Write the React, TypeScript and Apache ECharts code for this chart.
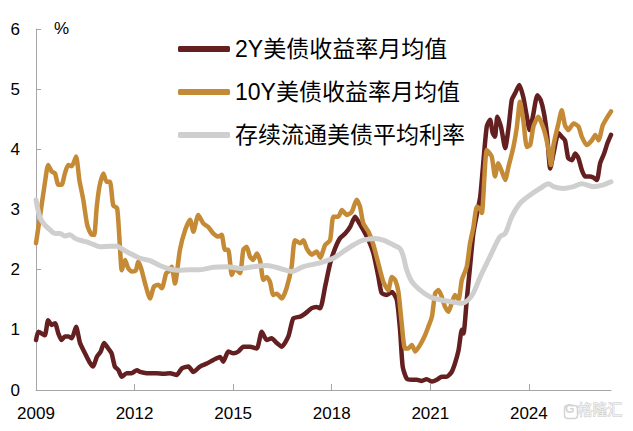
import React, { useEffect, useRef } from "react";
import * as echarts from "echarts";

// ---- data (decimal years, percent) ----
const xTicks = [2009, 2012, 2015, 2018, 2021, 2024];
const yTicks = [0, 1, 2, 3, 4, 5, 6];

const legendNames = ["2Y美债收益率月均值", "10Y美债收益率月均值", "存续流通美债平均利率"];

const t2y = [2009.0, 2009.07, 2009.17, 2009.27, 2009.37, 2009.48, 2009.58, 2009.68, 2009.78, 2009.88, 2009.98, 2010.09, 2010.22, 2010.34, 2010.49, 2010.62, 2010.74, 2010.85, 2010.97, 2011.07, 2011.2, 2011.3, 2011.4, 2011.51, 2011.61, 2011.76, 2011.91, 2012.07, 2012.17, 2012.37, 2012.67, 2012.88, 2013.08, 2013.28, 2013.44, 2013.64, 2013.79, 2013.99, 2014.2, 2014.4, 2014.6, 2014.7, 2014.85, 2015.01, 2015.16, 2015.31, 2015.51, 2015.72, 2015.87, 2016.02, 2016.17, 2016.33, 2016.48, 2016.68, 2016.83, 2017.04, 2017.19, 2017.39, 2017.54, 2017.65, 2017.8, 2017.95, 2018.1, 2018.25, 2018.41, 2018.56, 2018.71, 2018.81, 2018.96, 2019.12, 2019.27, 2019.42, 2019.52, 2019.68, 2019.83, 2019.98, 2020.08, 2020.16, 2020.28, 2020.44, 2020.59, 2020.74, 2020.89, 2021.05, 2021.2, 2021.35, 2021.5, 2021.65, 2021.75, 2021.86, 2021.96, 2022.01, 2022.11, 2022.21, 2022.31, 2022.42, 2022.52, 2022.62, 2022.72, 2022.82, 2022.9, 2022.97, 2023.04, 2023.15, 2023.28, 2023.38, 2023.48, 2023.58, 2023.71, 2023.83, 2023.94, 2024.02, 2024.12, 2024.26, 2024.36, 2024.46, 2024.56, 2024.65, 2024.75, 2024.9, 2025.0, 2025.1, 2025.2, 2025.31, 2025.41, 2025.51, 2025.61, 2025.71, 2025.86, 2025.96, 2026.07, 2026.17, 2026.29, 2026.39, 2026.5];
const v2y = [0.83, 0.97, 0.94, 0.91, 1.16, 1.08, 1.11, 0.94, 0.83, 0.89, 0.89, 0.86, 1.05, 0.78, 0.61, 0.47, 0.39, 0.55, 0.64, 0.78, 0.69, 0.61, 0.39, 0.33, 0.22, 0.28, 0.28, 0.33, 0.3, 0.28, 0.28, 0.27, 0.28, 0.25, 0.36, 0.39, 0.3, 0.39, 0.44, 0.5, 0.55, 0.47, 0.64, 0.61, 0.64, 0.72, 0.72, 0.69, 0.97, 0.83, 0.86, 0.78, 0.72, 0.89, 1.19, 1.22, 1.27, 1.36, 1.38, 1.36, 1.72, 2.1, 2.35, 2.52, 2.6, 2.71, 2.88, 2.8, 2.66, 2.49, 2.27, 1.88, 1.61, 1.58, 1.63, 1.5, 1.0, 0.39, 0.19, 0.17, 0.17, 0.15, 0.18, 0.14, 0.17, 0.22, 0.22, 0.3, 0.44, 0.66, 1.0, 0.94, 1.5, 2.05, 2.6, 2.93, 3.21, 3.82, 4.38, 4.49, 4.27, 4.21, 4.54, 4.38, 4.02, 4.35, 4.82, 4.93, 5.07, 4.87, 4.54, 4.32, 4.54, 4.9, 4.82, 4.6, 4.21, 3.68, 3.93, 4.27, 4.21, 4.15, 3.85, 3.82, 3.93, 3.85, 3.66, 3.55, 3.55, 3.53, 3.49, 3.77, 3.93, 4.1, 4.24];

const t10y = [2009.0, 2009.12, 2009.27, 2009.37, 2009.48, 2009.58, 2009.68, 2009.78, 2009.88, 2009.98, 2010.09, 2010.22, 2010.32, 2010.44, 2010.56, 2010.7, 2010.77, 2010.85, 2010.93, 2011.05, 2011.15, 2011.25, 2011.35, 2011.47, 2011.56, 2011.61, 2011.71, 2011.81, 2011.91, 2012.04, 2012.11, 2012.2, 2012.32, 2012.47, 2012.59, 2012.72, 2012.83, 2012.96, 2013.03, 2013.13, 2013.23, 2013.38, 2013.54, 2013.69, 2013.79, 2013.94, 2014.09, 2014.24, 2014.4, 2014.55, 2014.65, 2014.75, 2014.85, 2014.96, 2015.06, 2015.21, 2015.31, 2015.41, 2015.51, 2015.61, 2015.72, 2015.82, 2015.92, 2016.02, 2016.12, 2016.22, 2016.33, 2016.48, 2016.63, 2016.78, 2016.88, 2017.04, 2017.14, 2017.24, 2017.39, 2017.54, 2017.65, 2017.8, 2017.95, 2018.05, 2018.2, 2018.31, 2018.46, 2018.61, 2018.76, 2018.86, 2018.96, 2019.12, 2019.27, 2019.42, 2019.57, 2019.72, 2019.83, 2019.93, 2020.03, 2020.13, 2020.23, 2020.33, 2020.44, 2020.54, 2020.69, 2020.84, 2020.94, 2021.05, 2021.15, 2021.25, 2021.35, 2021.45, 2021.55, 2021.65, 2021.75, 2021.86, 2021.96, 2022.11, 2022.21, 2022.31, 2022.42, 2022.52, 2022.57, 2022.72, 2022.87, 2022.97, 2023.07, 2023.18, 2023.28, 2023.38, 2023.53, 2023.63, 2023.73, 2023.83, 2023.94, 2024.04, 2024.14, 2024.29, 2024.39, 2024.49, 2024.6, 2024.67, 2024.75, 2024.9, 2025.0, 2025.1, 2025.2, 2025.36, 2025.51, 2025.61, 2025.76, 2025.92, 2026.02, 2026.12, 2026.25, 2026.37, 2026.5];
const v10y = [2.44, 2.88, 3.44, 3.74, 3.63, 3.6, 3.41, 3.41, 3.6, 3.74, 3.72, 3.88, 3.49, 3.16, 2.74, 2.58, 2.58, 3.05, 3.38, 3.6, 3.46, 3.46, 3.07, 3.02, 2.33, 1.99, 2.16, 2.02, 1.97, 1.99, 2.13, 2.02, 1.77, 1.52, 1.72, 1.75, 1.69, 1.94, 1.97, 2.05, 1.77, 2.33, 2.66, 2.83, 2.63, 2.91, 2.77, 2.71, 2.6, 2.55, 2.58, 2.33, 2.33, 1.91, 2.02, 1.94, 2.33, 2.38, 2.22, 2.16, 2.27, 2.15, 1.83, 1.88, 1.8, 1.58, 1.6, 1.52, 1.7, 2.05, 2.49, 2.44, 2.49, 2.35, 2.25, 2.3, 2.2, 2.41, 2.49, 2.88, 2.88, 2.99, 2.91, 2.96, 3.16, 3.05, 2.77, 2.63, 2.41, 2.1, 1.8, 1.66, 1.88, 1.83, 1.63, 1.11, 0.69, 0.69, 0.75, 0.64, 0.75, 0.91, 1.05, 1.22, 1.61, 1.66, 1.55, 1.38, 1.3, 1.44, 1.58, 1.5, 1.83, 2.05, 2.44, 2.7, 3.05, 3.0, 2.94, 3.99, 3.88, 3.55, 3.77, 3.63, 3.49, 3.71, 4.04, 4.35, 4.79, 4.49, 4.04, 4.07, 4.38, 4.54, 4.43, 4.27, 3.99, 3.74, 4.07, 4.43, 4.65, 4.4, 4.32, 4.43, 4.38, 4.21, 4.07, 4.15, 4.24, 4.15, 4.4, 4.52, 4.63];

const tAvg = [2009.0, 2009.12, 2009.27, 2009.43, 2009.58, 2009.73, 2009.88, 2010.03, 2010.19, 2010.34, 2010.54, 2010.74, 2010.95, 2011.25, 2011.46, 2011.66, 2011.86, 2012.17, 2012.47, 2012.77, 2013.08, 2013.33, 2013.69, 2013.99, 2014.4, 2014.81, 2015.21, 2015.61, 2016.02, 2016.43, 2016.78, 2017.14, 2017.54, 2017.75, 2018.05, 2018.35, 2018.66, 2018.96, 2019.32, 2019.57, 2019.88, 2020.08, 2020.18, 2020.28, 2020.44, 2020.69, 2020.99, 2021.3, 2021.6, 2021.96, 2022.16, 2022.31, 2022.52, 2022.82, 2023.12, 2023.28, 2023.48, 2023.73, 2024.04, 2024.34, 2024.6, 2024.75, 2025.05, 2025.36, 2025.61, 2025.96, 2026.27, 2026.5];
const vAvg = [3.16, 2.87, 2.74, 2.66, 2.6, 2.6, 2.56, 2.58, 2.52, 2.49, 2.46, 2.42, 2.38, 2.39, 2.39, 2.33, 2.27, 2.19, 2.15, 2.07, 2.01, 1.99, 2.0, 2.0, 2.04, 2.05, 2.02, 2.05, 2.07, 2.02, 1.97, 2.05, 2.1, 2.13, 2.19, 2.3, 2.41, 2.49, 2.52, 2.49, 2.41, 2.35, 2.22, 2.0, 1.8, 1.66, 1.55, 1.5, 1.47, 1.44, 1.5, 1.61, 1.88, 2.22, 2.55, 2.6, 2.88, 3.1, 3.24, 3.35, 3.43, 3.38, 3.35, 3.38, 3.43, 3.38, 3.41, 3.46];

const colors = ["#641f20", "#c48a35", "#cfcfcf"];

const zip = (t: number[], v: number[]) => t.map((x, i) => [x, v[i]]);

const NUM_FONT = "'Liberation Sans', Arial, 'Noto Sans CJK SC', sans-serif";

export default function App() {
  const ref = useRef<HTMLDivElement>(null);
  useEffect(() => {
    if (!ref.current) return;
    const chart = echarts.init(ref.current, undefined, { renderer: "svg" });
    chart.setOption({
      animation: false,
      backgroundColor: "#ffffff",
      grid: { left: 36, right: 22, top: 29, bottom: 41 },
      legend: {
        orient: "vertical",
        left: 173,
        top: 30,
        itemWidth: 52,
        itemHeight: 6,
        itemGap: 15,
        icon: "roundRect",
        data: legendNames,
        textStyle: {
          fontSize: 23,
          lineHeight: 28,
          color: "#000",
          fontFamily: NUM_FONT,
        },
      },
      xAxis: {
        type: "value",
        min: 2009,
        max: 2026.5,
        interval: 3,
        splitLine: { show: false },
        axisLine: { show: true, lineStyle: { color: "#a6a6a6", width: 1 } },
        axisTick: { show: true, inside: true, length: 6, lineStyle: { color: "#a6a6a6" }, customValues: xTicks },
        axisLabel: {
          customValues: xTicks,
          margin: 15,
          fontSize: 17,
          color: "#000",
          fontFamily: NUM_FONT,
          formatter: (v: number) => String(v),
        },
      },
      yAxis: {
        type: "value",
        min: 0,
        max: 6,
        interval: 1,
        splitLine: { show: false },
        axisLine: { show: true, lineStyle: { color: "#a6a6a6", width: 1 } },
        axisTick: { show: true, inside: true, length: 5, lineStyle: { color: "#a6a6a6" }, customValues: yTicks },
        axisLabel: { margin: 16, fontSize: 17, color: "#000", fontFamily: NUM_FONT },
      },
      graphic: [
        {
          type: "text",
          left: 54,
          top: 20,
          style: { text: "%", fontSize: 17, fill: "#000", fontFamily: NUM_FONT },
        },
        {
          type: "rect",
          left: 562,
          top: 403,
          shape: { width: 13, height: 13, r: 3 },
          style: { fill: "none", stroke: "#d4d4d4", lineWidth: 1.5 },
        },
        {
          type: "text",
          left: 565,
          top: 403,
          style: { text: "G", fontSize: 12, fontWeight: "bold", fill: "#d4d4d4", fontFamily: NUM_FONT },
        },
        {
          type: "text",
          left: 577,
          top: 401,
          style: { text: "格隆汇", fontSize: 15, fill: "#f0f0f0", stroke: "#c8c8c8", lineWidth: 0.8, fontFamily: "'Noto Sans CJK SC', sans-serif" },
        },
      ],
      series: [
        {
          name: legendNames[0],
          type: "line",
          data: zip(t2y, v2y),
          showSymbol: false,
          smooth: 0.2,
          color: colors[0],
          lineStyle: { width: 4.5, color: colors[0], cap: "round", join: "round" },
        },
        {
          name: legendNames[1],
          type: "line",
          data: zip(t10y, v10y),
          showSymbol: false,
          smooth: 0.2,
          color: colors[1],
          lineStyle: { width: 4.5, color: colors[1], cap: "round", join: "round" },
        },
        {
          name: legendNames[2],
          type: "line",
          data: zip(tAvg, vAvg),
          showSymbol: false,
          smooth: 0.3,
          color: colors[2],
          lineStyle: { width: 5, color: colors[2], cap: "round", join: "round" },
        },
      ],
    });
    return () => chart.dispose();
  }, []);
  return (
    <div
      ref={ref}
      style={{ position: "fixed", left: 0, top: 0, width: 633, height: 431 }}
    />
  );
}
